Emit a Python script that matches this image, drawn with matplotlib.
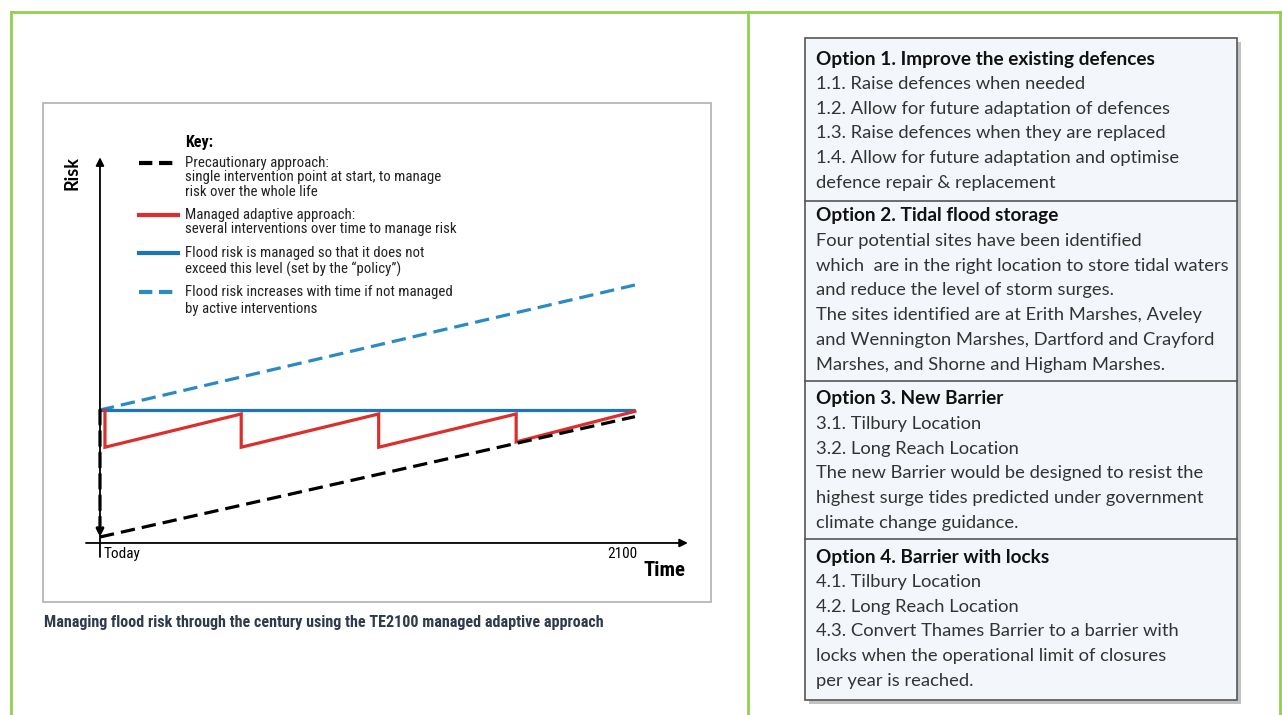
import matplotlib.pyplot as plt
from matplotlib.patches import Rectangle
from matplotlib.lines import Line2D

W, H = 1282, 715

# time axis: 0 = Today, 100 = 2100 ; risk: 1.0 = policy level
policy_t = [0, 100]
policy_risk = [1.0, 1.0]

unmanaged_t = [0, 100]
unmanaged_risk = [1.0, 1.94]

precaution_t = [0, 100]
precaution_risk = [0.045, 0.95]

adaptive_t = [0.93, 0.93, 26.4, 26.4, 52.1, 52.1, 77.8, 77.8, 100]
adaptive_risk = [1.0, 0.72, 0.97, 0.72, 0.97, 0.72, 0.97, 0.76, 0.99]

key_items = [
    ("Precautionary approach:\nsingle intervention point at start, to manage\nrisk over the whole life", "black", "dash"),
    ("Managed adaptive approach:\nseveral interventions over time to manage risk", "#d9302c", "solid"),
    ("Flood risk is managed so that it does not\nexceed this level (set by the \u201cpolicy\u201d)", "#1c75bc", "solid"),
    ("Flood risk increases with time if not managed\nby active interventions", "#2a8ac6", "dash"),
]

options = [
    ("Option 1. Improve the existing defences",
     ["1.1. Raise defences when needed",
      "1.2. Allow for future adaptation of defences",
      "1.3. Raise defences when they are replaced",
      "1.4. Allow for future adaptation and optimise",
      "defence repair & replacement"]),
    ("Option 2. Tidal flood storage",
     ["Four potential sites have been identified",
      "which  are in the right location to store tidal waters",
      "and reduce the level of storm surges.",
      "The sites identified are at Erith Marshes, Aveley",
      "and Wennington Marshes, Dartford and Crayford",
      "Marshes, and Shorne and Higham Marshes."]),
    ("Option 3. New Barrier",
     ["3.1. Tilbury Location",
      "3.2. Long Reach Location",
      "The new Barrier would be designed to resist the",
      "highest surge tides predicted under government",
      "climate change guidance."]),
    ("Option 4. Barrier with locks",
     ["4.1. Tilbury Location",
      "4.2. Long Reach Location",
      "4.3. Convert Thames Barrier to a barrier with",
      "locks when the operational limit of closures",
      "per year is reached."]),
]

NARROW = ["Roboto Condensed", "PT Sans Narrow", "Lato", "DejaVu Sans"]
BODY = ["Lato", "DejaVu Sans"]


def fx(x):
    return x / W


def fy(y):
    return 1 - y / H


fig = plt.figure(figsize=(W / 100, H / 100), dpi=100)

# green frame
green = "#92d050"
for xs, ys in [([11, 1280], [12, 12]), ([11, 11], [12, 715]),
               ([748, 748], [12, 715]), ([1280, 1280], [12, 715])]:
    fig.add_artist(Line2D([fx(x) for x in xs], [fy(y) for y in ys], color=green, lw=2))

# chart panel border
fig.add_artist(Rectangle((fx(43), fy(602)), fx(711) - fx(43), fy(103) - fy(602),
                         fill=False, ec="#b0b0b0", lw=1.2))

ax = fig.add_axes([fx(75), fy(560), fx(690) - fx(75), fy(150) - fy(560)])
ax.set_xlim(-4.67, 110.3)
ax.set_ylim(-0.128, 2.955)
ax.axis("off")

# axes arrows
ax.annotate("", xy=(109.9, 0), xytext=(-2.62, 0),
            arrowprops=dict(arrowstyle="-|>", lw=1.3, color="black", mutation_scale=12,
                            shrinkA=0, shrinkB=0))
ax.annotate("", xy=(0, 2.90), xytext=(0, -0.105),
            arrowprops=dict(arrowstyle="-|>", lw=1.3, color="black", mutation_scale=12,
                            shrinkA=0, shrinkB=0))

lw = 2.3
ax.plot(unmanaged_t, unmanaged_risk, color="#2a8ac6", lw=lw, dashes=(4.5, 2.2))
ax.plot(policy_t, policy_risk, color="#1c75bc", lw=lw, solid_capstyle="butt")
ax.plot(adaptive_t, adaptive_risk, color="#d9302c", lw=lw, solid_joinstyle="miter")
ax.plot(precaution_t, precaution_risk, color="black", lw=lw, dashes=(4.5, 2.2))
# single intervention at start (drop to the precautionary level)
ax.annotate("", xy=(0, precaution_risk[0]), xytext=(0, policy_risk[0]),
            arrowprops=dict(arrowstyle="-|>", lw=lw, color="black", linestyle=(0, (4.5, 2.2)),
                            mutation_scale=10, shrinkA=0, shrinkB=0))

fig.text(fx(72), fy(173), "Risk", rotation=90, ha="center", va="center",
         fontsize=13, fontweight="bold", family=BODY)
fig.text(fx(104), fy(554), "Today", ha="left", va="center", fontsize=11, family=NARROW)
fig.text(fx(637), fy(554), "2100", ha="right", va="center", fontsize=11, family=NARROW)
fig.text(fx(686), fy(570), "Time", ha="right", va="center", fontsize=15,
         fontweight="bold", family=NARROW)

# key
fig.text(fx(185), fy(143), "Key:", ha="left", va="center", fontsize=11.5,
         fontweight="bold", family=NARROW)
key_y = [163, 215, 253, 292]
for (label, color, style), y in zip(key_items, key_y):
    ls = (0, (3.2, 1.6)) if style == "dash" else "-"
    fig.add_artist(Line2D([fx(139), fx(178)], [fy(y), fy(y)], color=color, lw=3, ls=ls))
    step = 14.5 if y < 250 else 16.5
    for i, line in enumerate(label.split("\n")):
        fig.text(fx(185), fy(y + i * step), line, ha="left", va="center",
                 fontsize=10.7, family=NARROW, color="#222222")

fig.text(fx(44), fy(622), "Managing flood risk through the century using the TE2100 managed adaptive approach",
         ha="left", va="center", fontsize=11.6, fontweight="bold", family=NARROW, color="#2f3b4a")

# options table
bx0, bx1, by0, by1 = 805, 1237, 38, 700
fig.add_artist(Rectangle((fx(bx0 + 4), fy(by1 + 4)), fx(bx1) - fx(bx0), fy(by0) - fy(by1),
                         fc="#9a9a9a", ec="none", alpha=0.6))
fig.add_artist(Rectangle((fx(bx0), fy(by1)), fx(bx1) - fx(bx0), fy(by0) - fy(by1),
                         fc="#f3f7fb", ec="#555555", lw=1.2))
dividers = [201, 381, 539]
for d in dividers:
    fig.add_artist(Line2D([fx(bx0), fx(bx1)], [fy(d), fy(d)], color="#555555", lw=1.2))

section_top = [59, 216, 399, 557]
row_h = 24.8
for (title, lines), y0 in zip(options, section_top):
    fig.text(fx(816), fy(y0), title, ha="left", va="center", fontsize=13.7,
             fontweight="bold", family=BODY, color="#111111")
    for i, line in enumerate(lines):
        fig.text(fx(816), fy(y0 + (i + 1) * row_h), line, ha="left", va="center",
                 fontsize=13.2, family=BODY, color="#333333")

fig.savefig("out.png", dpi=100)
